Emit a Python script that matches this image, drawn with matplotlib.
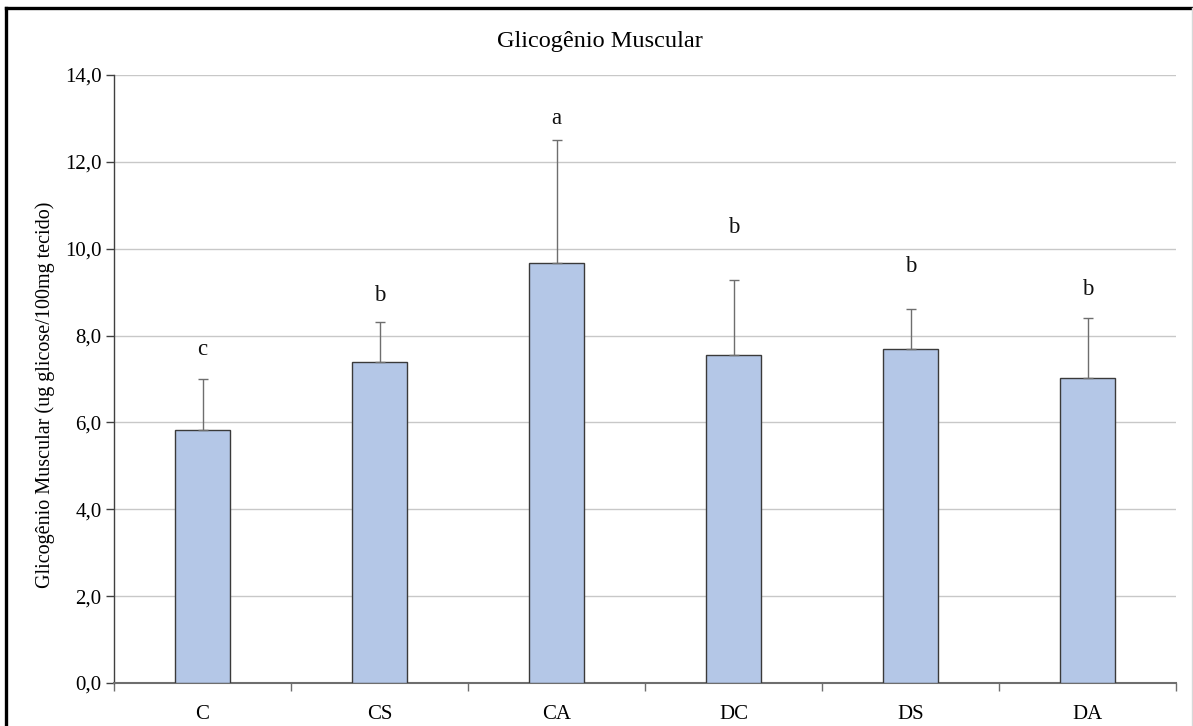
import matplotlib
matplotlib.use("Agg")
import matplotlib.pyplot as plt
from matplotlib.lines import Line2D
from matplotlib.ticker import FuncFormatter, FixedLocator
import numpy as np

categories = ["C", "CS", "CA", "DC", "DS", "DA"]
means = [5.83, 7.40, 9.66, 7.55, 7.69, 7.02]
errors = [1.17, 0.91, 2.84, 1.73, 0.92, 1.39]
letters = ["c", "b", "a", "b", "b", "b"]
letter_y = [7.67, 8.93, 13.0, 10.5, 9.58, 9.05]
yticks = [0, 2, 4, 6, 8, 10, 12, 14]

plt.rcParams['font.family'] = ['Liberation Serif', 'DejaVu Serif']

W, H = 1193, 726
fig = plt.figure(figsize=(W / 100, H / 100), dpi=100)
ax = fig.add_axes([114 / W, 1 - 683 / H, (1176 - 114) / W, (683 - 75) / H])

x = np.arange(len(categories))
ax.bar(x, means, width=0.31, color="#B4C7E7", edgecolor="#3a3a3a", linewidth=1.0, zorder=3)
ax.errorbar(x, means, yerr=[np.zeros(len(means)), errors], fmt="none",
            ecolor="#6e6e6e", elinewidth=1.0, capsize=3.5, capthick=1.0, zorder=4)
for xi, lt, ly in zip(x, letters, letter_y):
    ax.text(xi, ly, lt, ha="center", va="center", fontsize=16.5, color="#111111")

ax.set_xlim(-0.5, len(categories) - 0.5)
ax.set_ylim(0, 14)
ax.set_yticks(yticks)
ax.yaxis.set_major_formatter(FuncFormatter(lambda v, p: f"{v:.1f}".replace(".", ",")))
ax.yaxis.grid(True, color="#c8c8c8", linewidth=1.0, zorder=0)
ax.set_axisbelow(True)

ax.set_xticks(x)
ax.set_xticklabels(categories)
ax.xaxis.set_minor_locator(FixedLocator(np.arange(-0.5, len(categories), 1.0)))
ax.tick_params(axis="x", which="major", length=0, pad=16, labelsize=15)
ax.tick_params(axis="x", which="minor", length=6, width=1, color="#6e6e6e", direction="out")
ax.tick_params(axis="y", length=6, width=1, color="#404040", labelsize=15, pad=3)

for s in ["top", "right"]:
    ax.spines[s].set_visible(False)
ax.spines["left"].set_color("#404040")
ax.spines["bottom"].set_color("#6e6e6e")
ax.spines["left"].set_linewidth(1.0)
ax.spines["bottom"].set_linewidth(1.5)

fig.text(0.503, 1 - 42 / H, "Glicogênio Muscular", ha="center", va="center", fontsize=17.5)
fig.text(45 / W, 1 - 395 / H, "Glicogênio Muscular (ug glicose/100mg tecido)",
         rotation=90, ha="center", va="center", fontsize=14.5)

# outer frame: thick black left and top, faint right
fig.add_artist(Line2D([6 / W, 6 / W], [0, 1 - 8 / H], transform=fig.transFigure,
                      color="black", linewidth=2.4))
fig.add_artist(Line2D([6 / W, 1192 / W], [1 - 8 / H, 1 - 8 / H], transform=fig.transFigure,
                      color="black", linewidth=2.4))
fig.add_artist(Line2D([1191.5 / W, 1191.5 / W], [0, 1 - 8 / H], transform=fig.transFigure,
                      color="#d8d8d8", linewidth=1.0))

fig.savefig("out.png", dpi=100)
